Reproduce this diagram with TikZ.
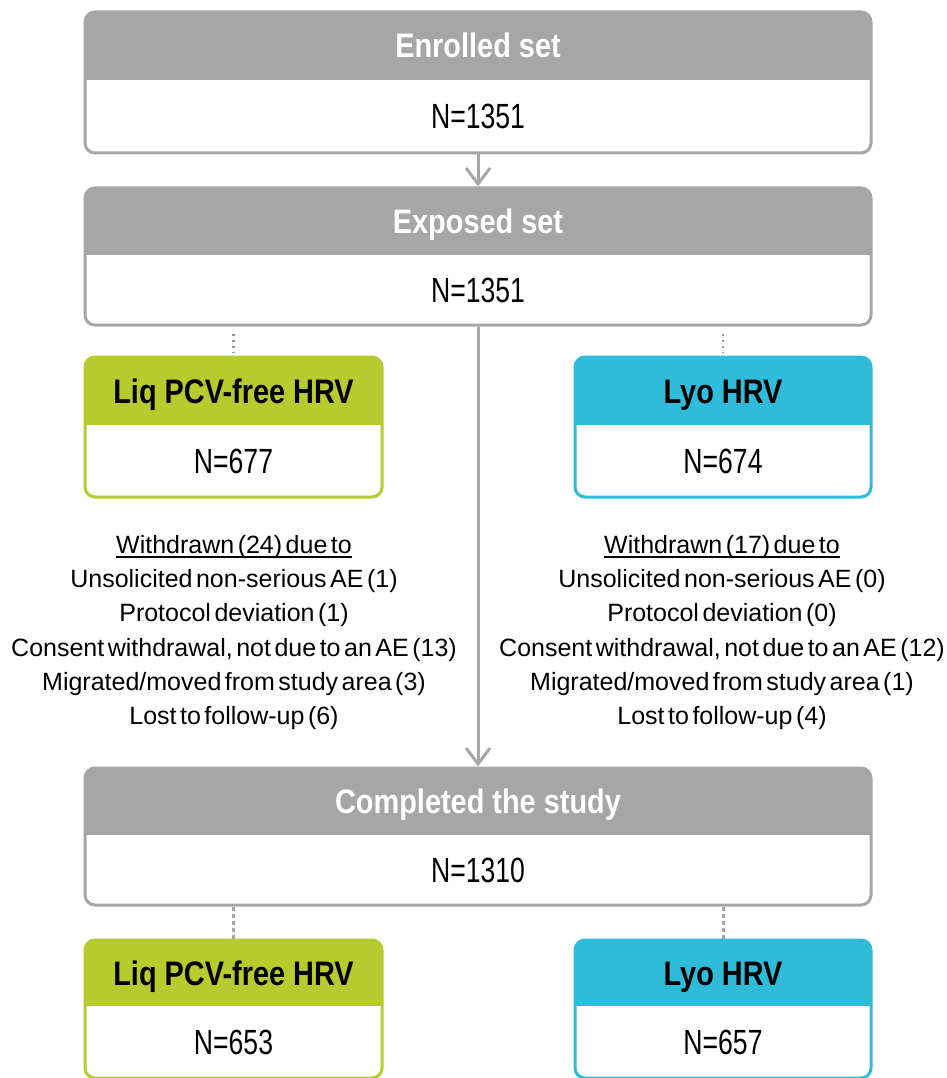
\documentclass[tikz,border=0pt]{standalone}
\usepackage{fontspec}
\setmainfont{Liberation Sans}
\newfontfamily\hdfont[FakeStretch=0.85]{Liberation Sans}
\newfontfamily\nfont[FakeStretch=0.76]{Liberation Sans}
\newfontfamily\wfont{Liberation Sans}
\usetikzlibrary{fit,arrows.meta}
\definecolor{boxgray}{RGB}{166,166,166}
\definecolor{boxgreen}{RGB}{181,203,46}
\definecolor{boxblue}{RGB}{46,188,218}
\definecolor{dotblue}{RGB}{140,150,185}
\newcommand{\tightspaces}{\spaceskip 3.5pt\relax}
\tikzset{
 hdtext-boxgray/.style={text=white},
 hdtext-boxgreen/.style={text=black},
 hdtext-boxblue/.style={text=black},
 hdlabel/.style={font=\hdfont\bfseries\fontsize{34}{40}\selectfont, inner sep=0pt, text height=24pt, text depth=0pt},
 nlabel/.style={font=\nfont\fontsize{35}{40}\selectfont, inner sep=0pt, text height=25pt, text depth=0pt, text=black},
 wlabel/.style={font=\wfont\fontsize{25}{30}\selectfont, execute at begin node={\tightspaces}, inner sep=0pt, anchor=base, text=black},
 frame/.style={inner sep=0pt, line width=3pt, rounded corners=10pt},
 arr/.style={draw=boxgray, line width=3pt, -{Straight Barb[length=16pt,width=24pt]}},
 dotlink/.style={draw=dotblue, line width=2.5pt, dash pattern=on 2.5pt off 3.5pt, shorten <=7pt, shorten >=3pt},
 dotlink2/.style={draw=boxgray, line width=3pt, dash pattern=on 4pt off 3pt},
}
% #1 name, #2 x1, #3 y1, #4 x2, #5 y2, #6 y of header bottom, #7 colour, #8 header, #9 count
\newcommand{\mybox}[9]{%
  \begin{scope}
    \clip[rounded corners=10pt] (#2,#3) rectangle (#4,#5);
    \fill[white] (#2,#3) rectangle (#4,#5);
    \fill[#7] (#2,#3) rectangle (#4,#6);
  \end{scope}
  \node[frame, draw=#7, fit={(#2,#3) (#4,#5)}] (#1) {};
  \node[hdlabel, hdtext-#7] (#1-h) at ({(#2+#4)/2},{(#3+#6)/2}) {#8};
  \node[nlabel] (#1-n) at ({(#2+#4)/2},{(#6+#5)/2}) {#9};
}
\begin{document}
\begin{tikzpicture}[x=1pt,y=-1pt]
\fill[white] (0,0) rectangle (946,1078);
\useasboundingbox (0,0) rectangle (946,1078);

\mybox{enr}{85}{12}{871}{153}{80}{boxgray}{Enrolled set}{N=1351}
\mybox{expo}{85}{188}{871}{325}{255}{boxgray}{Exposed set}{N=1351}
\mybox{liq}{85}{357}{382}{497}{425}{boxgreen}{Liq PCV-free HRV}{N=677}
\mybox{lyo}{575}{357}{871}{497}{425}{boxblue}{Lyo HRV}{N=674}
\mybox{comp}{85}{768}{871}{905}{835}{boxgray}{Completed the study}{N=1310}
\mybox{liqb}{85}{940}{382}{1078}{1006}{boxgreen}{Liq PCV-free HRV}{N=653}
\mybox{lyob}{575}{940}{871}{1078}{1006}{boxblue}{Lyo HRV}{N=657}

\draw[arr] (enr.south) -- (expo.north);
\draw[arr] (expo.south) -- (comp.north);

\draw[dotlink] (liq.north |- expo.south) -- (liq.north);
\draw[dotlink] (lyo.north |- expo.south) -- (lyo.north);
\draw[dotlink2] (liqb.north |- comp.south) -- (liqb.north);
\draw[dotlink2] (lyob.north |- comp.south) -- (lyob.north);

\node[wlabel] (l1) at (234,553) {Withdrawn (24) due to};
\node[wlabel] (l2) at (234,587) {Unsolicited non-serious AE (1)};
\node[wlabel] (l3) at (234,621) {Protocol deviation (1)};
\node[wlabel] (l4) at (234,656) {Consent withdrawal, not due to an AE (13)};
\node[wlabel] (l5) at (234,690) {Migrated/moved from study area (3)};
\node[wlabel] (l6) at (234,724) {Lost to follow-up (6)};
\draw[line width=1.5pt] ([yshift=-4pt]l1.base west) -- ([yshift=-4pt]l1.base east);

\node[wlabel] (r1) at (722,553) {Withdrawn (17) due to};
\node[wlabel] (r2) at (722,587) {Unsolicited non-serious AE (0)};
\node[wlabel] (r3) at (722,621) {Protocol deviation (0)};
\node[wlabel] (r4) at (722,656) {Consent withdrawal, not due to an AE (12)};
\node[wlabel] (r5) at (722,690) {Migrated/moved from study area (1)};
\node[wlabel] (r6) at (722,724) {Lost to follow-up (4)};
\draw[line width=1.5pt] ([yshift=-4pt]r1.base west) -- ([yshift=-4pt]r1.base east);
\end{tikzpicture}
\end{document}
